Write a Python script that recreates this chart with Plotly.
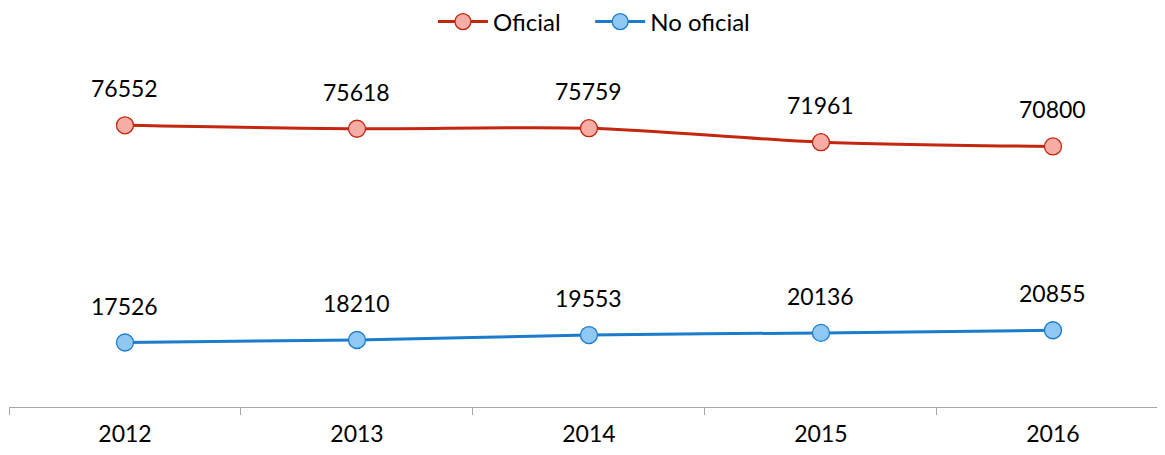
import plotly.graph_objects as go

years = ["2012", "2013", "2014", "2015", "2016"]
oficial = [76552, 75618, 75759, 71961, 70800]
no_oficial = [17526, 18210, 19553, 20136, 20855]
series_names = ["Oficial", "No oficial"]

FONT = "Lato"
FS = 23
red_line = "#C4260F"
red_fill = "#F6ADA5"
blue_line = "#1C7BCB"
blue_fill = "#8FC9F3"
GAP = "\u00a0" * 4

fig = go.Figure()
fig.add_trace(go.Scatter(
    x=years, y=oficial, name=series_names[0] + GAP, mode="lines+markers",
    line=dict(color=red_line, width=3, shape="spline", smoothing=0.8),
    marker=dict(size=17, color=red_fill, line=dict(color=red_line, width=1.3)),
))
fig.add_trace(go.Scatter(
    x=years, y=no_oficial, name=series_names[1], mode="lines+markers",
    line=dict(color=blue_line, width=3, shape="spline", smoothing=0.8),
    marker=dict(size=17, color=blue_fill, line=dict(color=blue_line, width=1.3)),
))

for series in (oficial, no_oficial):
    for i, v in enumerate(series):
        fig.add_annotation(x=i, y=v, text=str(v), showarrow=False,
                           xref="x", yref="y",
                           yshift=37, font=dict(family=FONT, size=FS, color="#000000"))

# page body has an 8px margin, so the figure is sized/offset to compensate
fig.update_layout(
    width=1157, height=447,
    margin=dict(l=1, r=0, t=31, b=48, autoexpand=False),
    plot_bgcolor="white", paper_bgcolor="white",
    font=dict(family=FONT, size=FS, color="#000000"),
    showlegend=True,
    legend=dict(orientation="h", x=0.506, xanchor="center",
                yref="container", y=1 - 14 / 447, yanchor="middle",
                font=dict(family=FONT, size=24), itemwidth=50, tracegroupgap=0,
                bgcolor="rgba(0,0,0,0)"),
    xaxis=dict(type="category", range=[-0.5, 4.483], tickson="boundaries",
               showline=True, linecolor="#A6A6A6", linewidth=1.3,
               ticks="outside", ticklen=7, tickcolor="#A6A6A6", tickwidth=1.3,
               showgrid=False, zeroline=False,
               tickfont=dict(family=FONT, size=FS, color="#000000"),
               ticklabelstandoff=6),
    yaxis=dict(range=[0, 100000], visible=False, showgrid=False, zeroline=False),
)

fig.write_html("out.html")
